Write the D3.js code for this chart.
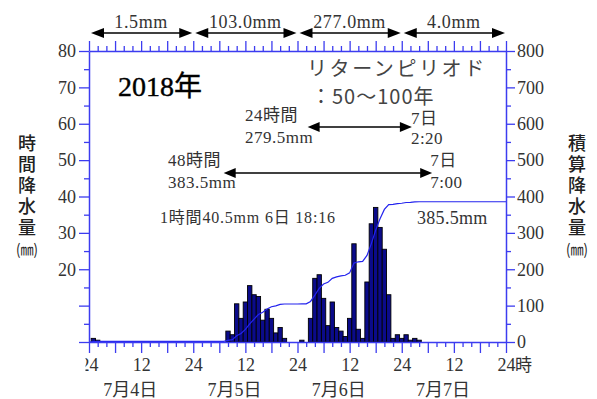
<!DOCTYPE html>
<html>
<head>
<meta charset="utf-8">
<script src="https://cdn.jsdelivr.net/npm/d3@7"></script>
<style>
  body { margin: 0; background: #fff; }
  svg { display: block; }
</style>
</head>
<body>
<svg id="chart" width="597" height="399"></svg>
<script>
// Hourly precipitation, 2018-07-04 00:00 to 07-08 00:00 (hour index = end of the hour)
const rainHours = [1, 2,
  32, 33, 34, 35, 36, 37, 38, 39, 40, 41, 42, 43, 44, 45,
  49, 50, 51, 52, 53, 54, 55, 56, 57, 58, 59, 60, 61, 62, 63, 64, 65, 66, 67, 68, 69, 70, 71, 72,
  73, 74, 75, 76];
const rainMm = [1.0, 0.5,
  3.0, 2.0, 10.5, 6.5, 11.0, 15.5, 13.0, 12.5, 6.0, 9.0, 6.5, 2.5, 4.0, 1.0,
  0.5, 0.0, 6.5, 17.5, 18.5, 12.0, 4.5, 11.0, 4.0, 3.0, 1.5, 6.5, 27.0, 3.5, 1.0, 16.5, 32.5, 37.0, 31.5, 25.5, 13.0, 1.0, 2.0, 1.0,
  2.0, 0.5, 1.0, 0.5];

const dayLabels = ["7月4日", "7月5日", "7月6日", "7月7日"];
const dayTotals = ["1.5mm", "103.0mm", "277.0mm", "4.0mm"];
const leftTickValues = [0, 10, 20, 30, 40, 50, 60, 70, 80];
const leftLabelled = [20, 30, 40, 50, 60, 70, 80];
const rightTickValues = [0, 100, 200, 300, 400, 500, 600, 700, 800];
const hourTickValues = [0, 12, 24, 36, 48, 60, 72, 84, 96];
const hourTickLabels = ["24", "12", "24", "12", "24", "12", "24", "12", "24"];

// Annotation values
const yearLabel = "2018年";
const returnPeriod = ["リターンピリオド", "：50～100年"];
const max24 = { label: ["24時間", "279.5mm"], end: 74 + 20 / 60, endLabel: ["7日", "2:20"] };
const max48 = { label: ["48時間", "383.5mm"], end: 79, endLabel: ["7日", "7:00"] };
const max1 = "1時間40.5mm 6日 18:16";
const totalLabel = "385.5mm";
const leftTitle = "時間降水量";
const rightTitle = "積算降水量";
const unitLabel = "(㎜)";

const SERIF = "'Liberation Serif','Noto Sans CJK JP',serif";
const SANS = "'Noto Sans CJK JP','Noto Sans',sans-serif";
const AXIS = "#3c3cf0";
const TEXT = "#333";

const svg = d3.select("#chart");
const L = 89, R = 506, T = 51, B = 342;

const x = d3.scaleLinear().domain([0, 96]).range([L, R]);
const yL = d3.scaleLinear().domain([0, 80]).range([B, T]);
const yR = d3.scaleLinear().domain([0, 800]).range([B, T]);

// ---- bars ----
const bars = rainHours.map((h, i) => ({ h, v: rainMm[i] })).filter(d => d.v > 0);
svg.append("g").selectAll("rect").data(bars).join("rect")
  .attr("x", d => x(d.h - 0.5))
  .attr("width", d => x(d.h + 0.5) - x(d.h - 0.5))
  .attr("y", d => yL(d.v))
  .attr("height", d => yL(0) - yL(d.v))
  .attr("fill", "#0b0b8a")
  .attr("stroke", "#000")
  .attr("stroke-width", 0.9);

// ---- cumulative line ----
const hourly = new Array(97).fill(0);
rainHours.forEach((h, i) => { hourly[h] += rainMm[i]; });
const cum = Array.from(d3.cumsum(hourly));
svg.append("path")
  .datum(cum)
  .attr("fill", "none")
  .attr("stroke", "#2424ee")
  .attr("stroke-width", 1.2)
  .attr("d", d3.line().x((d, i) => x(i)).y(d => yR(d)));

// ---- axes ----
function styleAxis(g) {
  g.attr("color", AXIS);
  g.selectAll("line").attr("stroke-width", 1.3);
  g.select(".domain").attr("stroke-width", 1.5);
  g.selectAll("text").attr("fill", TEXT).attr("font-family", SERIF).attr("font-size", 18);
}

// left
svg.append("g").attr("transform", `translate(${L},0)`)
  .call(d3.axisLeft(yL).tickValues(leftTickValues).tickSize(10).tickSizeOuter(0).tickPadding(3)
    .tickFormat(d => leftLabelled.includes(d) ? d : ""))
  .call(styleAxis);
svg.append("g").attr("transform", `translate(${L},0)`)
  .call(d3.axisLeft(yL).tickValues(d3.range(5, 80, 10)).tickSize(5).tickFormat(""))
  .call(g => g.select(".domain").remove())
  .call(styleAxis);

// right
svg.append("g").attr("transform", `translate(${R},0)`)
  .call(d3.axisRight(yR).tickValues(rightTickValues).tickSize(9).tickSizeOuter(0).tickPadding(2))
  .call(styleAxis);
svg.append("g").attr("transform", `translate(${R},0)`)
  .call(d3.axisRight(yR).tickValues(d3.range(50, 800, 100)).tickSize(5).tickFormat(""))
  .call(g => g.select(".domain").remove())
  .call(styleAxis);

// top
svg.append("g").attr("transform", `translate(0,${T})`)
  .call(d3.axisTop(x).tickValues(d3.range(0, 97, 6)).tickSize(10).tickSizeOuter(0).tickFormat(""))
  .call(styleAxis);
svg.append("g").attr("transform", `translate(0,${T})`)
  .call(d3.axisTop(x).tickValues(d3.range(0, 97, 2).filter(h => h % 6)).tickSize(5).tickFormat(""))
  .call(g => g.select(".domain").remove())
  .call(styleAxis);

// bottom (labels cut at the left edge of the frame)
svg.append("defs").append("clipPath").attr("id", "xclip")
  .append("rect").attr("x", 85.5).attr("y", -20).attr("width", 600).attr("height", 100);
const xb = svg.append("g").attr("transform", `translate(0,${B})`)
  .call(d3.axisBottom(x).tickValues(d3.range(0, 97, 6)).tickSize(11).tickSizeOuter(0).tickPadding(5)
    .tickFormat(d => { const k = hourTickValues.indexOf(d); return k >= 0 ? hourTickLabels[k] : ""; }))
  .call(styleAxis);
xb.attr("clip-path", "url(#xclip)");
svg.append("g").attr("transform", `translate(0,${B})`)
  .call(d3.axisBottom(x).tickValues(d3.range(0, 97, 2).filter(h => h % 6)).tickSize(5).tickFormat(""))
  .call(g => g.select(".domain").remove())
  .call(styleAxis);
svg.append("text").attr("x", x(96) + 9).attr("y", 371)
  .attr("font-family", SANS).attr("font-size", 17).attr("fill", TEXT).text("時");

// day labels under the hour axis
svg.append("g").selectAll("text").data(dayLabels).join("text")
  .attr("x", (d, i) => x(i * 24 + 9.5))
  .attr("y", 396)
  .attr("text-anchor", "middle")
  .attr("font-family", SERIF).attr("font-size", 18).attr("fill", TEXT)
  .text(d => d);

// ---- axis titles (vertical) ----
function verticalTitle(cx, label) {
  svg.append("text")
    .attr("x", cx).attr("y", 134)
    .attr("style", "writing-mode: vertical-rl; text-orientation: upright;")
    .attr("font-family", SANS).attr("font-size", 18).attr("font-weight", 500)
    .attr("letter-spacing", 3)
    .attr("fill", "#222").text(label);
  svg.append("text")
    .attr("x", cx - 11).attr("y", 255)
    .attr("font-family", SANS).attr("font-size", 15)
    .attr("textLength", 22).attr("lengthAdjust", "spacingAndGlyphs")
    .attr("fill", "#222").text(unitLabel);
}
verticalTitle(27, leftTitle);
verticalTitle(577, rightTitle);

// ---- arrows ----
function arrow(x1, x2, y, head = 13, half = 5) {
  const g = svg.append("g");
  g.append("line").attr("x1", x1 + head - 1).attr("x2", x2 - head + 1)
    .attr("y1", y).attr("y2", y).attr("stroke", "#000").attr("stroke-width", 1.3);
  g.append("path").attr("d", `M${x1},${y}L${x1 + head},${y - half}L${x1 + head},${y + half}Z`).attr("fill", "#000");
  g.append("path").attr("d", `M${x2},${y}L${x2 - head},${y - half}L${x2 - head},${y + half}Z`).attr("fill", "#000");
}

// daily totals along the top
dayTotals.forEach((t, i) => {
  arrow(x(i * 24) + 2, x(i * 24 + 24) - 1, 33);
  svg.append("text").attr("x", x(i * 24 + 12)).attr("y", 28)
    .attr("text-anchor", "middle").attr("font-family", SERIF).attr("font-size", 18)
    .attr("letter-spacing", 0.6).attr("fill", TEXT).text(t);
});

function twoLines(xp, y0, lines, size = 17, gap = 22) {
  lines.forEach((s, i) => {
    svg.append("text").attr("x", xp).attr("y", y0 + i * gap)
      .attr("font-family", SERIF).attr("font-size", size).attr("letter-spacing", 0.5)
      .attr("fill", TEXT).text(s);
  });
}

// 24-hour maximum
arrow(x(max24.end - 24), x(max24.end), 127, 12, 5);
twoLines(245, 121, max24.label);
twoLines(x(max24.end) - 1, 124, max24.endLabel, 17, 20);

// 48-hour maximum
arrow(x(max48.end - 48), x(max48.end), 173, 12, 5);
twoLines(168, 166, max48.label);
twoLines(x(max48.end) - 2, 166, max48.endLabel);

// 1-hour maximum and storm total
svg.append("text").attr("x", 160).attr("y", 223)
  .attr("font-family", SERIF).attr("font-size", 16).attr("letter-spacing", 0.8)
  .attr("fill", TEXT).text(max1);
svg.append("text").attr("x", 417).attr("y", 224)
  .attr("font-family", SERIF).attr("font-size", 18).attr("letter-spacing", 0.3)
  .attr("fill", TEXT).text(totalLabel);

// year and return period
svg.append("text").attr("x", 118).attr("y", 96)
  .attr("font-family", SERIF).attr("font-size", 28).attr("fill", "#000")
  .attr("stroke", "#000").attr("stroke-width", 0.4).text(yearLabel);
svg.append("text").attr("x", 307).attr("y", 76)
  .attr("font-family", SANS).attr("font-size", 20).attr("letter-spacing", 2.6)
  .attr("fill", "#444").text(returnPeriod[0]);
svg.append("text").attr("x", 311).attr("y", 104)
  .attr("font-family", SANS).attr("font-size", 20).attr("letter-spacing", 1)
  .attr("fill", "#444").text(returnPeriod[1]);
</script>
</body>
</html>
